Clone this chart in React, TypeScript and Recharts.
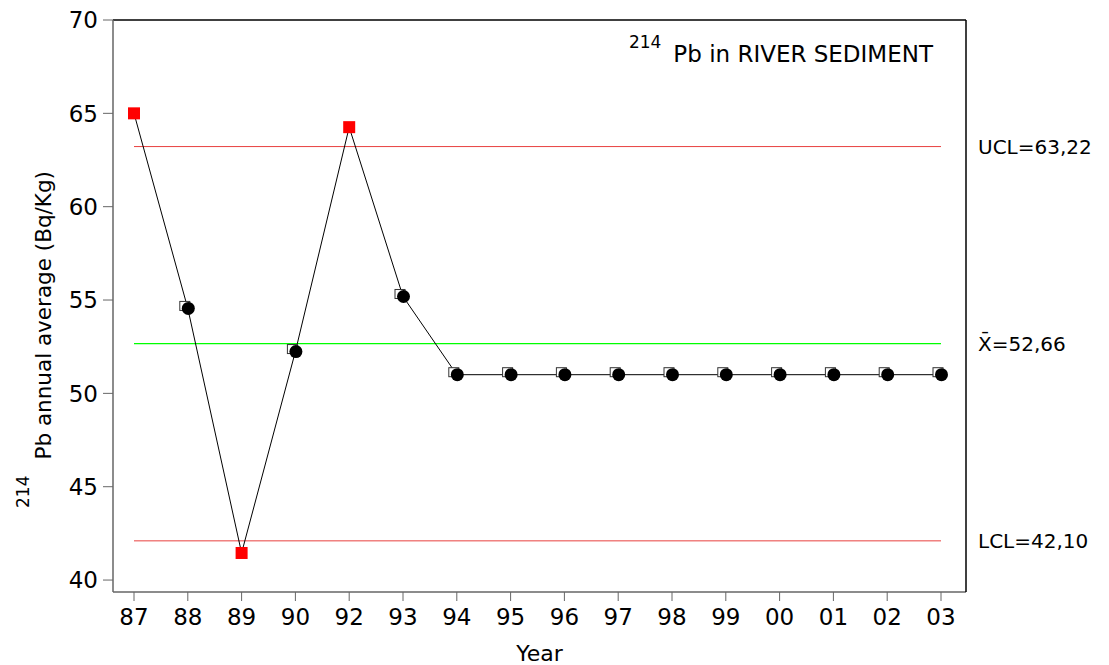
import React from 'react';
import {
  LineChart,
  Line,
  XAxis,
  YAxis,
  ReferenceLine,
  Label
} from 'recharts';

const years = ['87', '88', '89', '90', '92', '93', '94', '95', '96', '97', '98', '99', '00', '01', '02', '03'];
const pbAverage = [65.0, 54.55, 41.45, 52.24, 64.26, 55.19, 51.0, 51.0, 51.0, 51.0, 51.0, 51.0, 51.0, 51.0, 51.0, 51.0];
const yTicks = [40, 45, 50, 55, 60, 65, 70];

const UCL = 63.22;
const MEAN = 52.66;
const LCL = 42.1;

const data = years.map((year, i) => ({ year, pb: pbAverage[i] }));

const FONT = 'Tahoma, "DejaVu Sans", sans-serif';
const axisGray = '#666';

const PointDot = (props: any) => {
  const { cx, cy, value, index } = props;
  if (cx == null || cy == null) return null;
  const out = value > UCL || value < LCL;
  if (out) {
    return <rect key={index} x={cx - 6} y={cy - 6} width={12} height={12} fill="#ff0000" />;
  }
  return (
    <g key={index}>
      <rect x={cx - 8} y={cy - 7} width={10} height={9} fill="#fff" stroke="#333" strokeWidth={1} />
      <circle cx={cx + 0.5} cy={cy} r={6.5} fill="#000" />
    </g>
  );
};

const limitLabel = (text: string) => (props: any) => {
  const vb = props.viewBox || {};
  const x = (vb.x ?? 0) + (vb.width ?? 0) + 37;
  const y = (vb.y ?? 0) + (vb.height ?? 0) / 2;
  return (
    <text x={x} y={y} dominantBaseline="central" fontFamily={FONT} fontSize={20} fill="#000">
      {text}
    </text>
  );
};

const TitleLabel = () => (
  <text x={933} y={62} textAnchor="end" fontFamily={FONT} fill="#000">
    <tspan fontSize={17} dy={-14}>214</tspan>
    <tspan fontSize={23} dy={14} dx={12}>Pb in RIVER SEDIMENT</tspan>
  </text>
);

const YLabel = () => {
  const x = 51;
  const y = 508;
  return (
    <text x={x} y={y} transform={`rotate(-90 ${x} ${y})`} fontFamily={FONT} fill="#000">
      <tspan fontSize={17} dy={-22}>214</tspan>
      <tspan fontSize={21.5} dy={22} dx={16}>Pb annual average (Bq/Kg)</tspan>
    </text>
  );
};

export default function App() {
  return (
    <div style={{ position: 'absolute', left: 0, top: 0, background: '#fff' }}>
      <LineChart
        width={1109}
        height={665}
        data={data}
        margin={{ top: 19, right: 142, bottom: 0, left: 0 }}
      >
        <XAxis
          dataKey="year"
          height={73}
          padding={{ left: 21, right: 25 }}
          tick={{ fill: '#000', fontSize: 23, fontFamily: FONT }}
          tickLine={{ stroke: axisGray }}
          tickSize={9}
          tickMargin={8}
          axisLine={{ stroke: axisGray, strokeWidth: 1.5 }}
          interval={0}
        >
          <Label value="Year" position="insideBottom" offset={4} fill="#000" fontSize={22} fontFamily={FONT} />
        </XAxis>
        <XAxis
          xAxisId="top"
          dataKey="year"
          orientation="top"
          height={1}
          tick={false}
          tickLine={false}
          axisLine={{ stroke: '#000', strokeWidth: 1.5 }}
        >
          <Label content={TitleLabel} />
        </XAxis>
        <YAxis
          width={113}
          domain={[39.36, 70]}
          ticks={yTicks}
          allowDataOverflow
          tick={{ fill: '#000', fontSize: 23, fontFamily: FONT }}
          tickLine={{ stroke: axisGray }}
          tickSize={10}
          tickMargin={5}
          axisLine={{ stroke: axisGray, strokeWidth: 1.5 }}
        >
          <Label content={YLabel} />
        </YAxis>
        <YAxis
          yAxisId="right"
          orientation="right"
          width={1}
          domain={[39.36, 70]}
          tick={false}
          tickLine={false}
          axisLine={{ stroke: '#000', strokeWidth: 1.5 }}
        />
        <ReferenceLine
          segment={[{ x: years[0], y: UCL }, { x: years[years.length - 1], y: UCL }]}
          stroke="#e8403f"
          strokeWidth={1}
          label={limitLabel('UCL=63,22')}
        />
        <ReferenceLine
          segment={[{ x: years[0], y: MEAN }, { x: years[years.length - 1], y: MEAN }]}
          stroke="#00ff00"
          strokeWidth={1.3}
          label={limitLabel('X\u0304=52,66')}
        />
        <ReferenceLine
          segment={[{ x: years[0], y: LCL }, { x: years[years.length - 1], y: LCL }]}
          stroke="#e8403f"
          strokeWidth={1}
          label={limitLabel('LCL=42,10')}
        />
        <Line
          dataKey="pb"
          stroke="#000"
          strokeWidth={1}
          dot={PointDot}
          activeDot={false}
          isAnimationActive={false}
        />
      </LineChart>
    </div>
  );
}
